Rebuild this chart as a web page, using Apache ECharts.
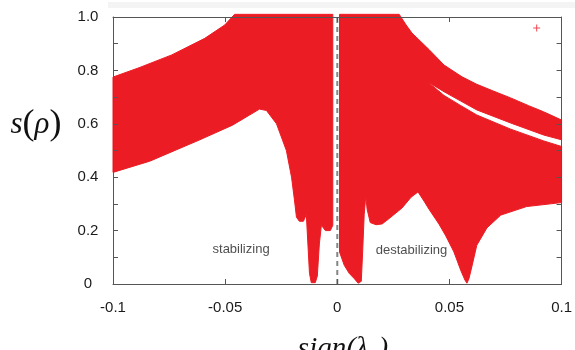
<!DOCTYPE html>
<html>
<head>
<meta charset="utf-8">
<script src="https://cdn.jsdelivr.net/npm/echarts@6/dist/echarts.min.js"></script>
<style>
html, body { margin: 0; padding: 0; background: #fff; }
#main { width: 575px; height: 350px; }
</style>
</head>
<body>
<div id="main"></div>
<script>
var xTicks = [-0.1, -0.05, 0, 0.05, 0.1]
var xTickText = ['-0.1', '-0.05', '0', '0.05', '0.1']
var yTicks = [0, 0.2, 0.4, 0.6, 0.8, 1.0]
var yTickText = ['0', '0.2', '0.4', '0.6', '0.8', '1.0']

// cloud of points for sign(lambda2) < 0, read as upper / lower edge [x, s]
var leftUpper = [
    [-0.1, 0.775], [-0.0884, 0.81], [-0.0738, 0.858], [-0.0591, 0.92],
    [-0.0502, 0.97], [-0.0458, 1.01], [-0.002, 1.01]
]
var leftLower = [
    [-0.1, 0.418], [-0.0836, 0.46], [-0.0613, 0.54], [-0.0467, 0.595],
    [-0.0391, 0.633], [-0.0347, 0.655], [-0.0316, 0.65], [-0.0271, 0.6],
    [-0.0227, 0.5], [-0.0204, 0.4], [-0.0191, 0.315], [-0.0182, 0.25],
    [-0.0169, 0.235], [-0.0151, 0.235], [-0.0138, 0.26], [-0.0131, 0.15],
    [-0.0124, 0.04], [-0.0116, 0.005], [-0.0098, 0.005], [-0.0089, 0.03],
    [-0.008, 0.15], [-0.0071, 0.22], [-0.0053, 0.2], [-0.0031, 0.2],
    [-0.002, 0.22]
]

// cloud for sign(lambda2) > 0
var rightUpper = [
    [0.001, 1.01], [0.0276, 1.01], [0.0307, 0.97], [0.0333, 0.94],
    [0.0409, 0.878], [0.0476, 0.82], [0.0556, 0.776], [0.0622, 0.748],
    [0.0698, 0.722], [0.0773, 0.697], [0.0853, 0.668], [0.092, 0.645],
    [0.1, 0.614]
]
// thin empty streak inside the right cloud
var gapTop = [
    [0.0404, 0.757], [0.0476, 0.72], [0.0551, 0.685], [0.0622, 0.652],
    [0.0773, 0.603], [0.092, 0.558], [0.1, 0.54]
]
var gapBottom = [
    [0.0404, 0.757], [0.0476, 0.706], [0.0551, 0.668], [0.0622, 0.633],
    [0.0773, 0.58], [0.092, 0.536], [0.1, 0.515]
]
var rightLower = [
    [0.001, 0.12], [0.0031, 0.07], [0.0053, 0.04], [0.0076, 0.02],
    [0.0093, 0.003], [0.0107, 0.01], [0.0113, 0.12], [0.012, 0.26],
    [0.0127, 0.33], [0.0133, 0.28], [0.0147, 0.23], [0.0173, 0.222],
    [0.02, 0.225], [0.0231, 0.245], [0.0289, 0.285], [0.0329, 0.325],
    [0.036, 0.345], [0.0387, 0.31], [0.0409, 0.28], [0.0453, 0.225],
    [0.0484, 0.18], [0.052, 0.12], [0.0551, 0.05], [0.0569, 0.015],
    [0.0578, 0.003], [0.0587, 0.02], [0.0600, 0.065], [0.0622, 0.145],
    [0.0667, 0.21], [0.0729, 0.258], [0.0844, 0.29], [0.1, 0.305]
]
var stray = [[0.0889, 0.959]]
var zeroLine = [[0, 0], [0, 1]]

var noteText = ['stabilizing', 'destabilizing']
var noteX = [-0.0429, 0.0331]
var noteY = [0.131, 0.124]

var red = '#ec1c24'
var frame = '#555'

function tickText(ticks, texts) {
    return function (v) {
        for (var i = 0; i < ticks.length; i++) {
            if (Math.abs(v - ticks[i]) < 1e-6) return texts[i]
        }
        return ''
    }
}

function cloud(outline) {
    return {
        type: 'custom',
        clip: false,
        silent: true,
        z: 2,
        data: outline,
        renderItem: function (params, api) {
            if (params.dataIndex !== 0) return null
            var pts = outline.map(function (p) { return api.coord(p) })
            return {
                type: 'polygon',
                shape: { points: pts },
                style: { fill: red, stroke: red, lineWidth: 1 }
            }
        }
    }
}

var leftOutline = leftUpper.concat(leftLower.slice().reverse())
var rightOutline = rightUpper.concat(gapTop.slice().reverse(), gapBottom.slice(1), rightLower.slice().reverse())

var notes = noteText.map(function (t, i) {
    return { name: t, value: [noteX[i], noteY[i]] }
})

// frame axes: same look on all four sides, ticks pointing in
function sideAxis(extra) {
    return echarts.util.merge(extra, {
        type: 'value',
        z: 5,
        axisLine: { show: true, onZero: false, lineStyle: { color: frame, width: 1 } },
        axisTick: { show: true, inside: true, length: 5, lineStyle: { color: frame } },
        axisLabel: { show: false },
        splitLine: { show: false }
    })
}

var myChart = echarts.init(document.getElementById('main'))
myChart.setOption({
    backgroundColor: '#fff',
    animation: false,
    grid: { left: 113, right: 12, top: 17, bottom: 66 },
    xAxis: [
        sideAxis({
            min: -0.1, max: 0.1, interval: 0.05, position: 'bottom',
            axisLabel: {
                show: true, margin: 16, fontSize: 15, color: '#1a1a1a',
                fontFamily: 'Liberation Sans, Arial', formatter: tickText(xTicks, xTickText)
            }
        }),
        sideAxis({ min: -0.1, max: 0.1, interval: 0.05, position: 'top' })
    ],
    yAxis: [
        sideAxis({
            min: 0, max: 1, interval: 0.1, position: 'left',
            axisLabel: {
                show: true, margin: 25, align: 'center', fontSize: 15, color: '#1a1a1a',
                fontFamily: 'Liberation Sans, Arial', formatter: tickText(yTicks, yTickText)
            }
        }),
        sideAxis({ min: 0, max: 1, interval: 0.1, position: 'right' })
    ],
    graphic: [
        {
            type: 'rect', z: 0, silent: true,
            shape: { x: 108, y: 2, width: 467, height: 6 },
            style: { fill: '#f4f4f4' }
        },
        {
            type: 'text', x: 36, y: 125, silent: true,
            style: {
                text: '{i|s}{p|(}{i|ρ}{p|)}',
                align: 'center', verticalAlign: 'middle', fill: '#111',
                rich: {
                    i: { fontFamily: 'Liberation Serif', fontStyle: 'italic', fontSize: 31, fill: '#111' },
                    p: { fontFamily: 'Liberation Serif', fontSize: 36, fill: '#111' }
                }
            }
        },
        {
            type: 'text', x: 343, y: 335, silent: true,
            style: {
                text: 'sign(λ₂)',
                align: 'center', verticalAlign: 'top', fill: '#111',
                fontFamily: 'Liberation Serif', fontStyle: 'italic', fontSize: 29
            }
        }
    ],
    series: [
        cloud(leftOutline),
        cloud(rightOutline),
        {
            type: 'line',
            data: zeroLine,
            symbol: 'none',
            z: 3,
            lineStyle: { color: '#858585', width: 2, type: [5, 4] }
        },
        {
            type: 'scatter',
            data: stray,
            symbol: 'path://M3,0h1v3h3v1h-3v3h-1v-3h-3v-1h3z',
            symbolSize: 7,
            itemStyle: { color: red },
            z: 3
        },
        {
            type: 'scatter',
            data: notes,
            symbolSize: 0,
            z: 4,
            label: {
                show: true, position: 'inside', formatter: '{b}',
                fontSize: 13, color: '#222', fontFamily: 'Liberation Sans, Arial'
            }
        }
    ]
}, true)
</script>
</body>
</html>
